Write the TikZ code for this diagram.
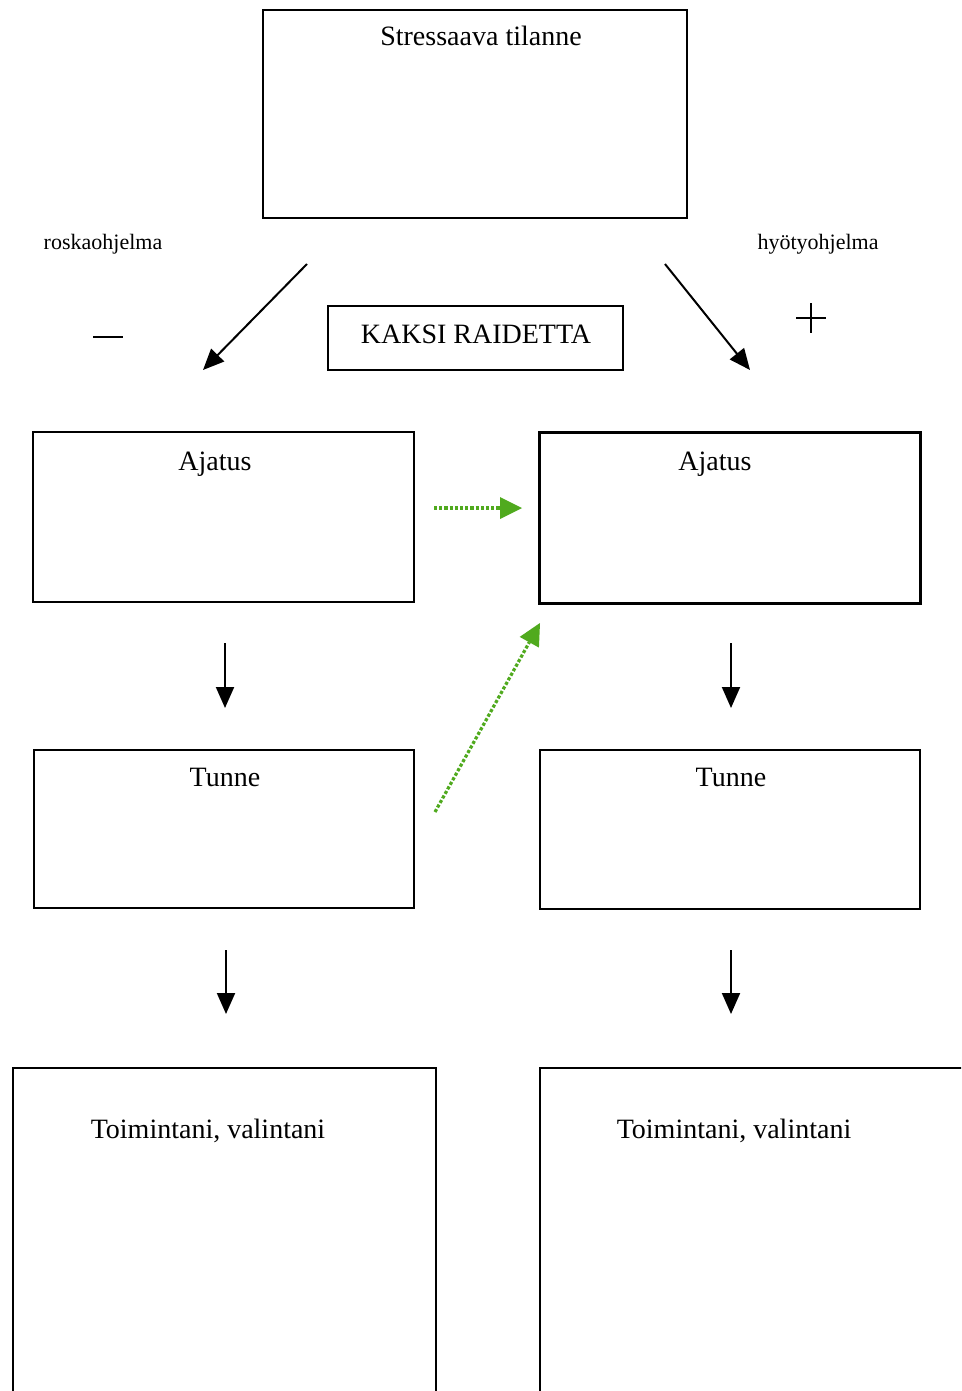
\documentclass[tikz,border=0pt]{standalone}
\usepackage{fontspec}
\setmainfont{Liberation Serif}
\usetikzlibrary{arrows.meta}
\definecolor{hintgreen}{RGB}{80,170,30}
\tikzset{
  box/.style={draw=black, line width=2pt, inner sep=0pt},
  thickbox/.style={box, line width=3pt},
  lbl/.style={font=\fontsize{28}{32}\selectfont, inner sep=0pt, anchor=base},
  side/.style={font=\fontsize{22}{26}\selectfont, inner sep=0pt, anchor=base},
  flow/.style={line width=2pt, -{Triangle[length=21pt,width=18pt]}},
  hint/.style={draw=hintgreen, line width=3.2pt, dotted,
    -{Triangle[length=22pt,width=22pt,line width=0pt,fill=hintgreen]}},
}
\begin{document}
\begin{tikzpicture}[x=1pt,y=-1pt]
\path[use as bounding box] (0,0) rectangle (961,1391);
\clip (0,0) rectangle (961,1391);
\fill[white] (0,0) rectangle (961,1391);

% situation box
\node[box, minimum width=424pt, minimum height=208pt] (situ) at (475,114) {};
\node[lbl] (situT) at (481,46) {Stressaava tilanne};

% side labels
\node[side] (junk) at (103,249) {roskaohjelma};
\node[side] (useful) at (818,249) {hyötyohjelma};
\draw[line width=2.6pt] (93,337) -- (123,337);
\draw[line width=2.6pt] (796,318) -- (826,318) (811,303) -- (811,333);

% the two tracks
\coordinate (lA) at (307,264); \coordinate (lB) at (203,370);
\coordinate (rA) at (665,264); \coordinate (rB) at (750,370);
\draw[flow] (lA) -- (lB);
\draw[flow] (rA) -- (rB);
\node[draw=black, line width=1.8pt, minimum width=295pt, minimum height=64pt, inner sep=0pt] (two) at (475.5,338) {};
\node[lbl] (twoT) at (476,343) {KAKSI RAIDETTA};

% thought boxes
\node[box, minimum width=381pt, minimum height=170pt] (thL) at (223.5,517) {};
\node[lbl] (thLT) at (215,470) {Ajatus};
\node[thickbox, minimum width=381pt, minimum height=171pt] (thR) at (729.5,517.5) {};
\node[lbl] (thRT) at (715,470) {Ajatus};

% feeling boxes
\node[box, minimum width=380pt, minimum height=158pt] (feL) at (224,829) {};
\node[lbl] (feLT) at (225,786) {Tunne};
\node[box, minimum width=380pt, minimum height=159pt] (feR) at (730,829.5) {};
\node[lbl] (feRT) at (731,786) {Tunne};

% action boxes, running off the lower edge
\node[box, minimum width=423pt, minimum height=360pt] (acL) at (224.5,1248) {};
\node[lbl] (acLT) at (208,1138) {Toimintani, valintani};
\node[box, minimum width=430pt, minimum height=360pt] (acR) at (755,1248) {};
\node[lbl] (acRT) at (734,1138) {Toimintani, valintani};

% downward arrows
\coordinate (d1a) at (225,643); \coordinate (d1b) at (225,708);
\coordinate (d2a) at (731,643); \coordinate (d2b) at (731,708);
\coordinate (d3a) at (226,950); \coordinate (d3b) at (226,1014);
\coordinate (d4a) at (731,950); \coordinate (d4b) at (731,1014);
\draw[flow] (d1a) -- (d1b);
\draw[flow] (d2a) -- (d2b);
\draw[flow] (d3a) -- (d3b);
\draw[flow] (d4a) -- (d4b);

% switching over to the useful track
\coordinate (g1a) at (434,508); \coordinate (g1b) at (522,508);
\coordinate (g2a) at (435,812); \coordinate (g2b) at (540,623);
\draw[hint] (g1a) -- (g1b);
\draw[hint] (g2a) -- (g2b);
\end{tikzpicture}
\end{document}
